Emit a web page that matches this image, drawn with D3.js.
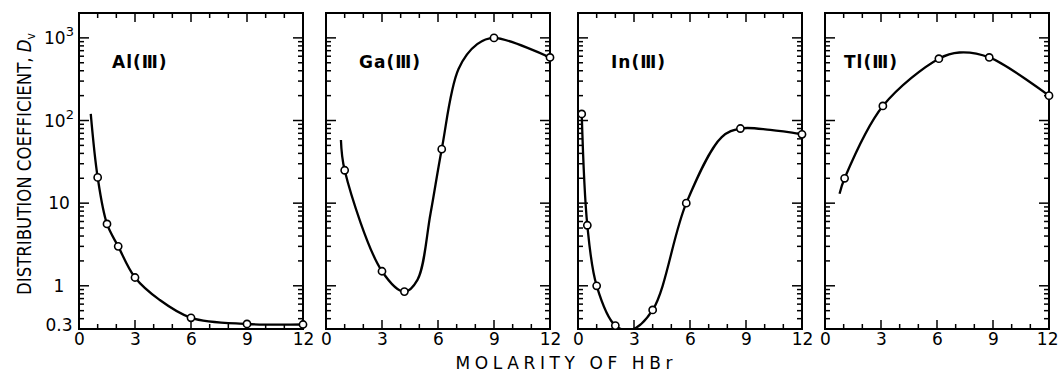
<!DOCTYPE html>
<html>
<head>
<meta charset="utf-8">
<script src="https://cdn.jsdelivr.net/npm/d3@7"></script>
<style>
  body { margin: 0; background: #fff; }
  svg { font-family: "DejaVu Sans", sans-serif; }
</style>
</head>
<body>
<div id="chart"></div>
<script>
// metal ions, one panel each
const metals = ["Al", "Ga", "In", "Tl"];

// measured points (open circles)
const alM = [1, 1.5, 2.1, 3, 6, 9, 12];
const alD = [20.5, 5.6, 3.0, 1.26, 0.41, 0.345, 0.34];
const gaM = [1, 3, 4.2, 6.2, 9, 12];
const gaD = [25, 1.5, 0.85, 45, 1000, 580];
const inM = [0.2, 0.5, 1, 2, 4, 5.8, 8.7, 12];
const inD = [120, 5.4, 1.0, 0.33, 0.51, 10, 80, 68];
const tlM = [1.05, 3.1, 6.1, 8.8, 12];
const tlD = [20, 150, 560, 580, 200];

// hand-drawn curves
const alCurveM = [0.63, 1, 1.5, 2.1, 3, 4.3, 6, 9, 12];
const alCurveD = [120, 20.5, 5.6, 3.0, 1.26, 0.68, 0.41, 0.345, 0.34];
const gaCurveM = [0.8, 1, 3, 4.2, 4.9, 5.6, 6.2, 7.1, 8.1, 9, 12];
const gaCurveD = [58, 25, 1.5, 0.85, 1.18, 7.5, 45, 420, 840, 1000, 580];
const inCurveM = [0.2, 0.5, 1, 2, 2.8, 4, 5.8, 7.7, 8.7, 10.3, 12];
const inCurveD = [120, 5.4, 1.0, 0.33, 0.29, 0.51, 10, 63, 80, 77, 68];
const tlCurveM = [0.78, 1.05, 3.1, 6.1, 7.2, 8.8, 12];
const tlCurveD = [13, 20, 150, 560, 665, 580, 200];

// ticks
const xTickValues = [0, 3, 6, 9, 12];
const yTickValues = [0.3, 1, 10, 100, 1000];
const yTickBase = ["0.3", "1", "10", "10", "10"];
const yTickExp = ["", "", "", "2", "3"];

const panels = [
  { name: metals[0], m: alM, d: alD, cm: alCurveM, cd: alCurveD },
  { name: metals[1], m: gaM, d: gaD, cm: gaCurveM, cd: gaCurveD },
  { name: metals[2], m: inM, d: inD, cm: inCurveM, cd: inCurveD },
  { name: metals[3], m: tlM, d: tlD, cm: tlCurveM, cd: tlCurveD }
];

const W = 1059, H = 375;
const panelLeft = [79, 326, 578, 825];
const panelW = 224;
const plotTop = 13, plotBottom = 329;

const svg = d3.select('#chart').append('svg')
  .attr('width', W).attr('height', H);

const y = d3.scaleLog().domain([0.3, 2000]).range([plotBottom, plotTop]);
const yMajor = [1, 10, 100, 1000];
const yTicks = y.ticks().map(v => ({ v, len: yMajor.includes(v) ? 10 : 5 }));

panels.forEach((p, i) => {
  const left = panelLeft[i], right = left + panelW;
  const x = d3.scaleLinear().domain([0, 12]).range([left, right]);
  const xTicks = x.ticks(12).map(v => ({ v, len: v % 3 === 0 ? 9 : 5 }));
  const g = svg.append('g');

  g.append('clipPath').attr('id', 'clip' + i)
    .append('rect').attr('x', left).attr('y', plotTop)
    .attr('width', panelW).attr('height', plotBottom - plotTop);

  // inward ticks on all four sides
  const tk = g.append('g').attr('stroke', '#000').attr('stroke-width', 1.5);
  [plotTop, plotBottom].forEach(edge => {
    const dir = edge === plotTop ? 1 : -1;
    tk.selectAll(null).data(xTicks).enter().append('line')
      .attr('x1', d => x(d.v)).attr('x2', d => x(d.v))
      .attr('y1', edge).attr('y2', d => edge + dir * d.len);
  });
  [left, right].forEach(edge => {
    const dir = edge === left ? 1 : -1;
    tk.selectAll(null).data(yTicks).enter().append('line')
      .attr('y1', d => y(d.v)).attr('y2', d => y(d.v))
      .attr('x1', edge).attr('x2', d => edge + dir * d.len);
  });

  g.append('rect')
    .attr('x', left).attr('y', plotTop)
    .attr('width', panelW).attr('height', plotBottom - plotTop)
    .attr('fill', 'none').attr('stroke', '#000').attr('stroke-width', 2);

  // x tick labels
  const xl = g.append('g').attr('transform', `translate(0,${plotBottom})`)
    .call(d3.axisBottom(x).tickValues(xTickValues).tickSize(0).tickPadding(4));
  xl.select('.domain').remove();
  xl.selectAll('text').attr('font-size', 17).attr('fill', '#000')
    .attr('font-family', '"DejaVu Sans", sans-serif');
  if (i === 3) xl.selectAll('text').filter(d => d === 12).attr('text-anchor', 'end').attr('dx', 9);

  // curve
  const line = d3.line()
    .x(d => x(d[0])).y(d => y(d[1]))
    .curve(d3.curveCatmullRom.alpha(0.5));
  g.append('path')
    .datum(p.cm.map((m, k) => [m, p.cd[k]]))
    .attr('clip-path', `url(#clip${i})`)
    .attr('d', line)
    .attr('fill', 'none').attr('stroke', '#000').attr('stroke-width', 2.3);

  g.selectAll('.dot')
    .data(p.m.map((m, k) => [m, p.d[k]]))
    .enter().append('circle')
    .attr('class', 'dot')
    .attr('cx', d => x(d[0])).attr('cy', d => y(d[1]))
    .attr('r', 3.6)
    .attr('fill', '#fff').attr('stroke', '#000').attr('stroke-width', 1.6);

  // panel label
  g.append('text')
    .attr('x', left + (i === 3 ? 19 : 33)).attr('y', 68)
    .attr('font-size', 17).attr('font-weight', 'bold')
    .attr('letter-spacing', 1)
    .text(p.name + '(Ⅲ)');
});

// y tick labels (first panel only)
const yl = svg.append('g');
yTickValues.forEach((v, k) => {
  const t = yl.append('text')
    .attr('x', 59).attr('y', y(v) + (v === 0.3 ? 2 : 6))
    .attr('text-anchor', 'middle')
    .attr('font-size', 17);
  t.append('tspan').text(yTickBase[k]);
  if (yTickExp[k]) {
    t.append('tspan').attr('dy', -8).attr('font-size', 13).text(yTickExp[k]);
  }
});

// axis titles
svg.append('text')
  .attr('x', 564).attr('y', 369)
  .attr('text-anchor', 'middle')
  .attr('font-size', 17)
  .attr('textLength', 217).attr('lengthAdjust', 'spacing')
  .text('MOLARITY OF HBr');

const yt = svg.append('text')
  .attr('transform', 'translate(31,164) rotate(-90)')
  .attr('text-anchor', 'middle')
  .attr('font-size', 20)
  .attr('textLength', 262).attr('lengthAdjust', 'spacingAndGlyphs');
yt.append('tspan').text('DISTRIBUTION COEFFICIENT, ');
yt.append('tspan').attr('font-style', 'italic').text('D');
yt.append('tspan').attr('font-size', 13).attr('dy', 4).text('v');
</script>
</body>
</html>
